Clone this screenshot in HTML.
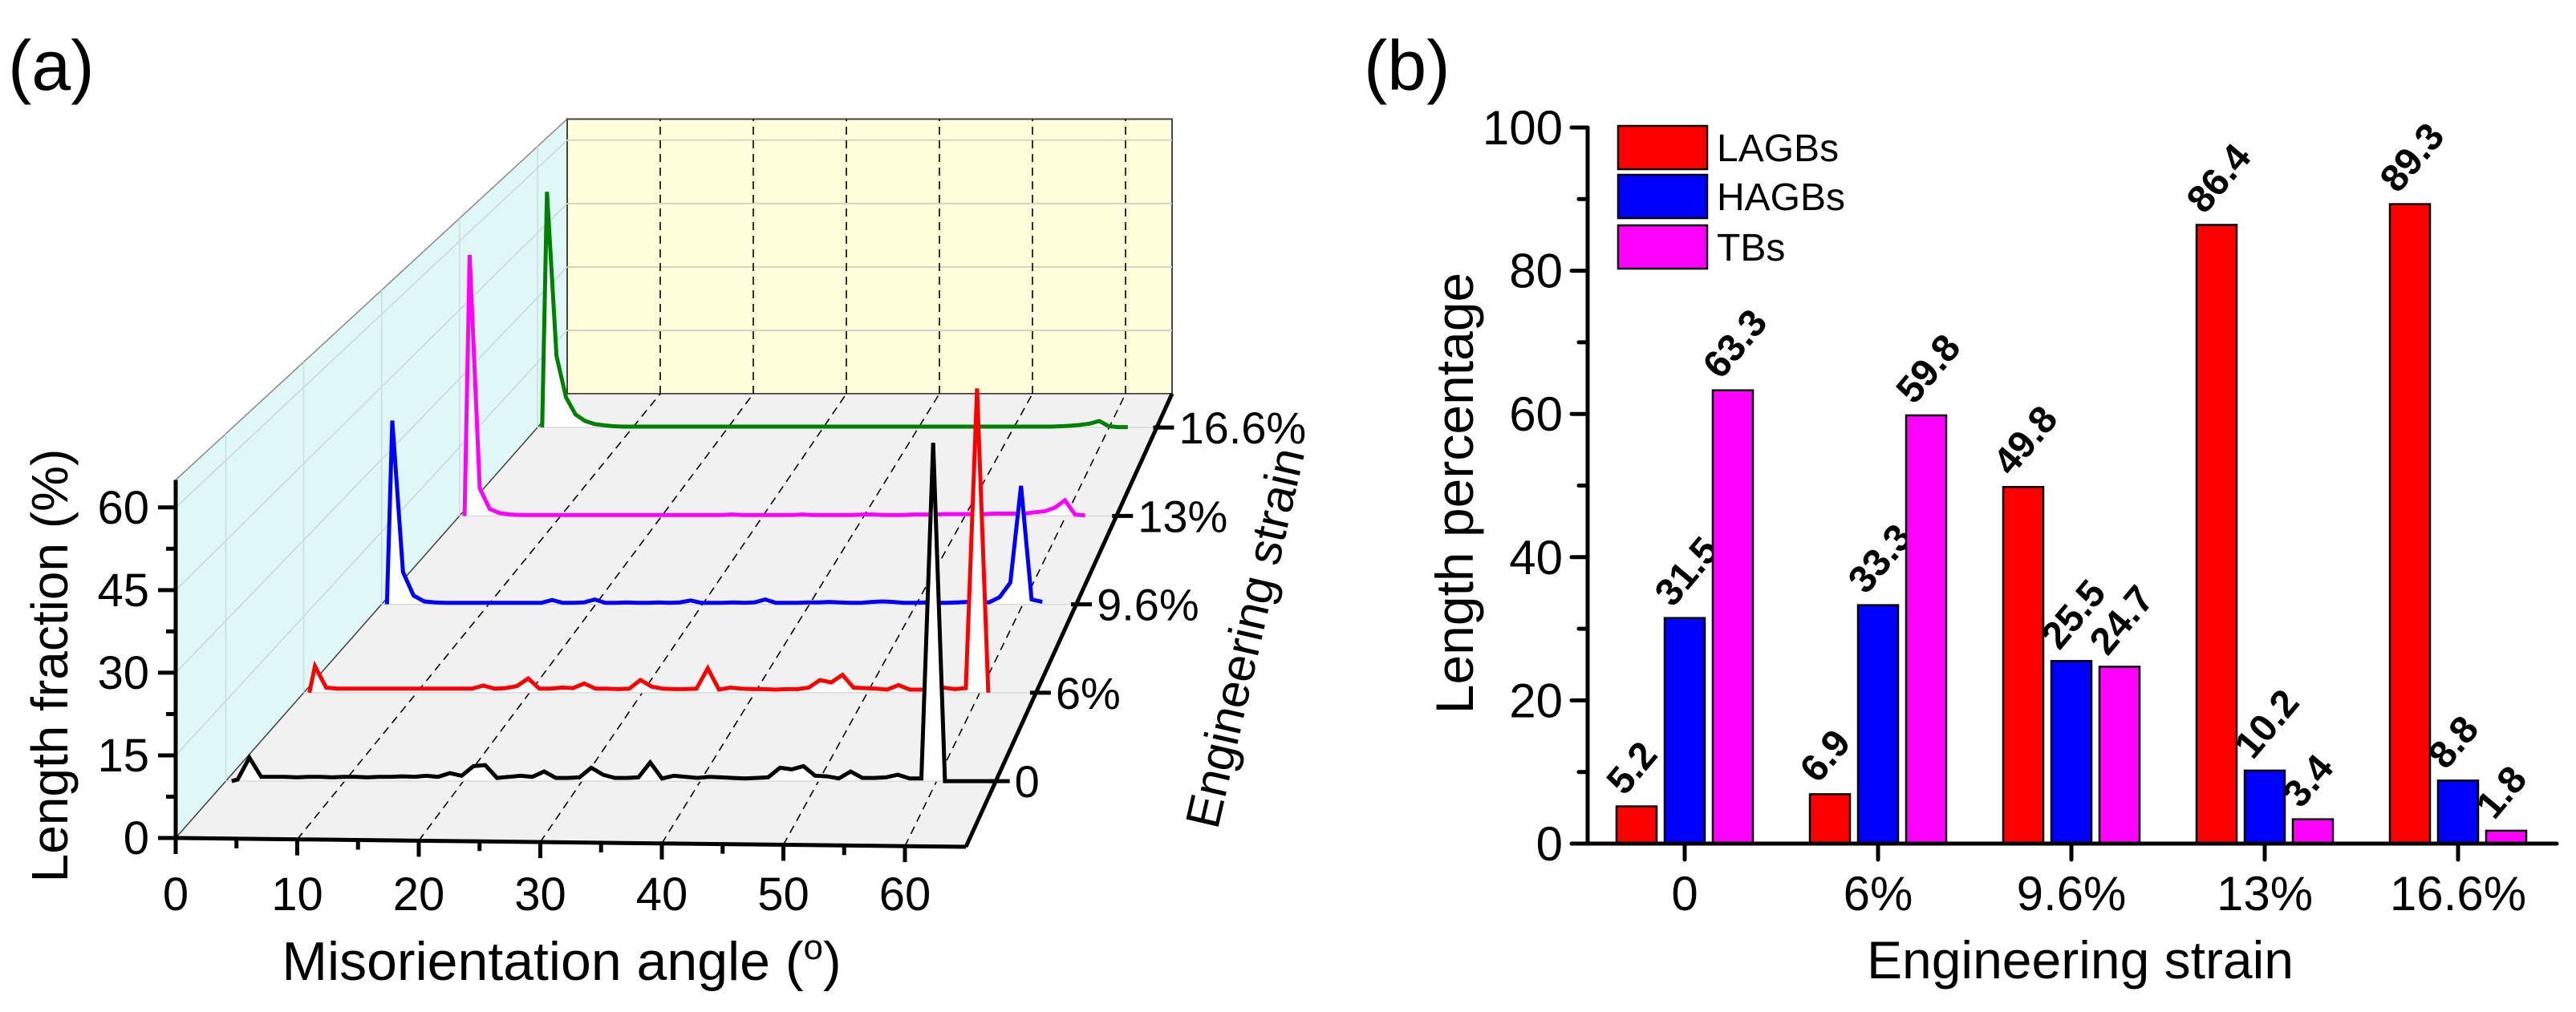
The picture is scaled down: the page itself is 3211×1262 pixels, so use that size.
<!DOCTYPE html>
<html><head><meta charset="utf-8">
<style>
html,body{margin:0;padding:0;background:#fff;}
svg{display:block;font-family:"Liberation Sans",Arial,sans-serif;}
</style></head>
<body>
<svg id="fig" width="3211" height="1262" viewBox="0 0 3211 1262" xmlns="http://www.w3.org/2000/svg">
<text x="10" y="112" font-size="88">(a)</text>
<text x="1700" y="112" font-size="88">(b)</text>
<g id="pa"></g>
<g id="pb"></g>
</svg>
<script>
// ---------- Panel (a) data ----------
const strainLabels = ["0","6%","9.6%","13%","16.6%"];
const angleTicks = [0,10,20,30,40,50,60];
const fracTicks = [0,15,30,45,60];
const seriesColors = ["#000000","#ff0000","#0000ff","#ff00ff","#008000"];
const black0 = [0.3,4.4,0.8,0.8,0.8,0.7,0.8,0.8,0.7,0.8,0.8,0.7,0.8,0.8,0.9,0.8,1.0,0.8,1.5,1.0,2.8,3.0,0.6,0.8,1.0,0.8,1.8,0.6,0.6,0.7,2.5,1.2,0.6,0.6,0.7,3.5,0.5,1.0,0.8,0.6,0.8,0.7,0.6,0.5,0.6,0.7,2.5,2.2,2.8,1.0,0.9,0.5,1.8,0.6,0.6,0.7,1.2,0.5,0.5,63.3,0,0];
const red6 = [5.2,1.0,0.8,0.8,0.8,0.8,0.8,0.8,0.8,0.8,0.8,0.8,0.8,0.8,0.8,1.4,0.8,0.9,1.3,2.8,0.8,0.8,1.0,0.9,1.8,0.8,0.8,0.7,0.8,2.5,1.2,0.8,0.7,0.7,0.8,4.8,0.6,1.0,0.8,0.7,0.7,0.6,0.7,0.7,1.0,2.5,2.0,3.5,1.0,0.9,0.8,0.6,1.5,0.6,0.6,0.7,1.0,0.7,0.9,59.8,0];
const blue96 = [38,6.7,1.8,0.6,0.4,0.3,0.3,0.3,0.3,0.3,0.3,0.3,0.3,0.3,0.3,0.9,0.3,0.3,0.4,1.0,0.3,0.3,0.4,0.3,0.3,0.4,0.3,0.4,0.8,0.3,0.3,0.3,0.4,0.3,0.4,1.0,0.3,0.3,0.3,0.4,0.4,0.5,0.4,0.3,0.3,0.5,0.6,0.5,0.3,0.3,0.4,0.3,0.3,0.4,0.5,0.6,0.4,1.5,4.5,24.5,1.0,0.5];
const mag13 = [57,6,1.5,0.6,0.3,0.2,0.2,0.2,0.2,0.2,0.2,0.2,0.2,0.2,0.2,0.2,0.2,0.2,0.2,0.2,0.2,0.2,0.2,0.2,0.2,0.2,0.3,0.2,0.2,0.2,0.2,0.2,0.2,0.3,0.2,0.2,0.2,0.2,0.2,0.3,0.3,0.2,0.2,0.2,0.3,0.3,0.3,0.4,0.4,0.4,0.4,0.4,0.5,0.5,0.5,0.5,0.8,1.0,1.8,3.4,0.3,0.1];
const green166 = [54.5,16.5,7,3,1.5,0.8,0.5,0.3,0.2,0.2,0.2,0.2,0.2,0.2,0.2,0.2,0.2,0.2,0.2,0.2,0.2,0.2,0.2,0.2,0.2,0.2,0.2,0.2,0.2,0.2,0.2,0.2,0.2,0.2,0.2,0.2,0.2,0.2,0.2,0.2,0.2,0.2,0.2,0.2,0.2,0.2,0.2,0.2,0.2,0.2,0.2,0.2,0.2,0.2,0.3,0.4,0.6,0.9,1.5,0.3,0.1,0.1];
const seriesA = [black0, red6, blue96, mag13, green166];

// ---------- Panel (b) data ----------
const categories = ["0","6%","9.6%","13%","16.6%"];
const lagbs = [5.2,6.9,49.8,86.4,89.3];
const hagbs = [31.5,33.3,25.5,10.2,8.8];
const tbs = [63.3,59.8,24.7,3.4,1.8];
const barTicks = [0,20,40,60,80,100];
const legendNames = ["LAGBs","HAGBs","TBs"];
const barColors = ["#ff0000","#0000ff","#ff00ff"];

const NS="http://www.w3.org/2000/svg";
function mk(parent,tag,attrs,txt){const e=document.createElementNS(NS,tag);for(const k in attrs)e.setAttribute(k,attrs[k]);if(txt!==undefined)e.textContent=txt;parent.appendChild(e);return e;}

// ===== Panel (a) projection =====
const pa=document.getElementById('pa');
function depthOf(i){return 0.128+i*0.199;}
function x0(t){return 219+488*t;}
function yb(t){return 1045-554*t;}
function sx(t){return 15.15-3.55*t;}
function vy(t){return 6.87-1.6*t;}
function P(deg,val,t){return [x0(t)+deg*sx(t), yb(t)-val*vy(t)];}
const DMAX=65, VMAX=65;
function pts(a){return a.map(p=>p[0].toFixed(1)+","+p[1].toFixed(1)).join(" ");}

// walls
let e;
e=mk(pa,'polygon',{points:pts([P(0,0,0),P(0,VMAX,0),P(0,VMAX,1),P(0,0,1)]),fill:"#dff7f7",stroke:"#888","stroke-width":1.5});


e=mk(pa,'polygon',{points:pts([P(0,0,1),P(0,VMAX,1),P(DMAX,VMAX,1),P(DMAX,0,1)]),fill:"#ffffdc",stroke:"#444","stroke-width":2});


e=mk(pa,'polygon',{points:pts([P(0,0,0),P(0,0,1),P(DMAX,0,1),[1204,1056]]),fill:"#f1f1f1",stroke:"#444","stroke-width":1.5});


// left wall grid
fracTicks.slice(1).forEach(v=>{
  e=mk(pa,'line',{x1:P(0,v,0)[0],y1:P(0,v,0)[1],x2:P(0,v,1)[0],y2:P(0,v,1)[1],stroke:"#c8d8d8","stroke-width":1.5});
  
  
  e=mk(pa,'line',{x1:P(0,v,1)[0],y1:P(0,v,1)[1],x2:P(DMAX,v,1)[0],y2:P(DMAX,v,1)[1],stroke:"#d4d4c4","stroke-width":2});
  
  
});
strainLabels.forEach((s,i)=>{const t=depthOf(i);
  e=mk(pa,'line',{x1:P(0,0,t)[0],y1:P(0,0,t)[1],x2:P(0,VMAX,t)[0],y2:P(0,VMAX,t)[1],stroke:"#cfdcdc","stroke-width":1.5});
  
  
});
// dashed angle gridlines
angleTicks.slice(1).forEach(d=>{
  const f=[219+d*15.15,1045+d*11/65], b=P(d,0,1), top=P(d,VMAX,1);
  e=mk(pa,'line',{x1:f[0],y1:f[1],x2:b[0],y2:b[1],stroke:"#000","stroke-width":1.6,"stroke-dasharray":"10,7"});
  
  
  e=mk(pa,'line',{x1:b[0],y1:b[1],x2:top[0],y2:top[1],stroke:"#000","stroke-width":1.6,"stroke-dasharray":"10,7"});
  
  
});
// series, back to front
for(let i=seriesA.length-1;i>=0;i--){
  const t=depthOf(i), data=seriesA[i];
  const line=[P(0.5,0,t)];
  data.forEach((v,k)=>line.push(P(k+1,v,t)));
  if(i===0) line.push(P(DMAX,0,t));
  const poly=line.concat([P(line.length? (i===0?DMAX:data.length):0,0,t)]);
  e=mk(pa,'polygon',{points:pts(poly),fill:"#ffffff",stroke:"none"});
  
  
  e=mk(pa,'line',{x1:P(0,0,t)[0],y1:P(0,0,t)[1],x2:P(DMAX,0,t)[0],y2:P(DMAX,0,t)[1],stroke:"#d8d8d8","stroke-width":1.5});
  
  
  e=mk(pa,'polyline',{points:pts(line),fill:"none",stroke:seriesColors[i],"stroke-width":5,"stroke-linejoin":"miter"});
  
  
}
// front axes
e=mk(pa,'line',{x1:219,y1:1045,x2:1204,y2:1056,stroke:"#000","stroke-width":5});


e=mk(pa,'line',{x1:219,y1:1047,x2:219,y2:P(0,VMAX,0)[1],stroke:"#000","stroke-width":5});


e=mk(pa,'line',{x1:1204,y1:1056,x2:P(DMAX,0,1)[0],y2:P(DMAX,0,1)[1],stroke:"#000","stroke-width":5});


for(let d=0; d<=60; d+=5){
  const x=219+d*15.15, y=1045+d*11/65;
  e=mk(pa,'line',{x1:x,y1:y,x2:x,y2:y+(d%10===0?20:12),stroke:"#000","stroke-width":5});
  
  
}
angleTicks.forEach(d=>{
  e=mk(pa,'text',{x:219+d*15.15,y:1135,"font-size":58,"text-anchor":"middle"},String(d));
  
  
});
for(let v=0; v<=60; v+=7.5){
  const y=P(0,v,0)[1];
  e=mk(pa,'line',{x1:219,y1:y,x2:219-(v%15===0?22:12),y2:y,stroke:"#000","stroke-width":5});
  
  
}
fracTicks.forEach(v=>{
  e=mk(pa,'text',{x:186,y:P(0,v,0)[1]+20,"font-size":58,"text-anchor":"end"},String(v));
  
  
});
strainLabels.forEach((s,i)=>{const t=depthOf(i);const p=P(DMAX,0,t);
  e=mk(pa,'line',{x1:p[0]-4,y1:p[1],x2:p[0]+22,y2:p[1],stroke:"#000","stroke-width":5});
  
  
  e=mk(pa,'text',{x:p[0]+28,y:p[1]+20,"font-size":56},s);
  
  
});
</script>
<script>
// static titles panel a
(function(){
const pa=document.getElementById('pa');const NS="http://www.w3.org/2000/svg";
let t=document.createElementNS(NS,'text');t.setAttribute('x',700);t.setAttribute('y',1222);t.setAttribute('font-size',68);t.setAttribute('text-anchor','middle');
t.innerHTML='Misorientation angle (<tspan dy="-26" font-size="44">o</tspan><tspan dy="26">)</tspan>';


pa.appendChild(t);
t=document.createElementNS(NS,'text');t.setAttribute('transform','translate(84,830) rotate(-90)');t.setAttribute('font-size',64);t.setAttribute('text-anchor','middle');t.textContent='Length fraction (%)';


pa.appendChild(t);
t=document.createElementNS(NS,'text');t.setAttribute('transform','translate(1572,800) rotate(-77)');t.setAttribute('font-size',60);t.setAttribute('text-anchor','middle');t.textContent='Engineering strain';


pa.appendChild(t);
})();
</script>
<script>
// ===== Panel (b) =====
(function(){
const pb=document.getElementById('pb');
const AX=1979, Y0=1052, YTOP=159, XEND=3187;
function yS(v){return Y0-(v/100)*(Y0-YTOP);}
function xS(i){return 2100+i*241;}
const series=[lagbs,hagbs,tbs];
const offs=[-60,0,60], BW=50;
let e;
series.forEach((vals,s)=>{
  vals.forEach((v,i)=>{
    const x=xS(i)+offs[s]-BW/2;
    e=mk(pb,'rect',{x:x,y:yS(v),width:BW,height:Y0-yS(v),fill:barColors[s],stroke:"#000","stroke-width":2.5});
    
    
    const tx=x+10, ty=yS(v)-12;
    e=mk(pb,'text',{x:tx,y:ty,"font-size":48,"font-weight":"bold",transform:`rotate(-50 ${tx} ${ty})`},v.toFixed(1));
    
    
  });
});
e=mk(pb,'line',{x1:AX-18,y1:Y0,x2:XEND,y2:Y0,stroke:"#000","stroke-width":5,"stroke-linecap":"round"});


e=mk(pb,'line',{x1:AX,y1:Y0,x2:AX,y2:YTOP,stroke:"#000","stroke-width":5});


for(let v=0; v<=100; v+=10){
  e=mk(pb,'line',{x1:AX,y1:yS(v),x2:AX-(v%20===0?20:11),y2:yS(v),stroke:"#000","stroke-width":5,"stroke-linecap":"round"});
  
  
}
barTicks.forEach(v=>{
  e=mk(pb,'text',{x:1948,y:yS(v)+21,"font-size":60,"text-anchor":"end"},String(v));
  
  
});
categories.forEach((c,i)=>{
  e=mk(pb,'line',{x1:xS(i),y1:Y0,x2:xS(i),y2:Y0+20,stroke:"#000","stroke-width":5,"stroke-linecap":"round"});
  
  
  e=mk(pb,'text',{x:xS(i),y:1135,"font-size":60,"text-anchor":"middle"},c);
  
  
});
legendNames.forEach((n,i)=>{
  const y=[157,218,281][i];
  e=mk(pb,'rect',{x:2017,y:y,width:111,height:54,fill:barColors[i],stroke:"#000","stroke-width":2.5});
  
  
  e=mk(pb,'text',{x:2140,y:y+44,"font-size":48},n);
  
  
});
e=mk(pb,'text',{x:2593,y:1220,"font-size":66,"text-anchor":"middle"},"Engineering strain");


e=mk(pb,'text',{transform:"translate(1836,615) rotate(-90)","font-size":66,"text-anchor":"middle"},"Length percentage");


})();
</script>
</body></html>
